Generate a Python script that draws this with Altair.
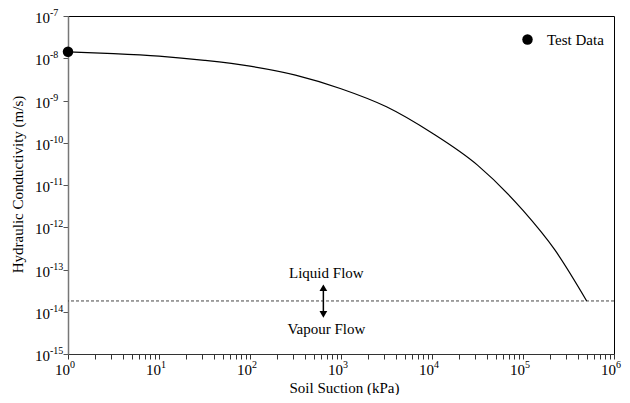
import altair as alt
import pandas as pd

# Curve
suction = [1, 3.16, 10, 31.6, 100, 316, 1000, 3162, 10000, 31620, 100000, 224000, 501000]
conductivity = [1.42e-8, 1.29e-8, 1.12e-8, 8.9e-9, 6.5e-9, 4.0e-9, 1.9e-9, 7.1e-10, 1.7e-10,
                2.95e-11, 2.5e-12, 2.9e-13, 1.8e-14]

test_suction = [1]
test_conductivity = [1.42e-8]
test_label = ["Test Data"]

threshold = 1.8e-14
arrow_x = 640
arrow_top = 3.7e-14
arrow_bottom = 8.7e-15
text_x = 690
liquid_y = 8.3e-14
vapour_y = 3.9e-15
notes = ["Liquid Flow", "Vapour Flow"]

x_exponents = [0, 1, 2, 3, 4, 5, 6]
y_exponents = [-7, -8, -9, -10, -11, -12, -13, -14, -15]
x_min, x_max = 1, 1e6
y_min, y_max = 1e-15, 1e-7

x_ticks = sorted(set([m * 10.0 ** e for e in x_exponents[:-1] for m in range(1, 10)] + [1e6]))
y_ticks = [10.0 ** e for e in y_exponents]

FONT = "Liberation Serif"

curve = pd.DataFrame({"s": suction, "k": conductivity})
test = pd.DataFrame({"s": test_suction, "k": test_conductivity, "series": test_label})
xlab = pd.DataFrame({"s": [10.0 ** e for e in x_exponents], "k": [y_min] * len(x_exponents),
                     "base": ["10"] * len(x_exponents), "exp": [str(e) for e in x_exponents]})
ylab = pd.DataFrame({"s": [x_min] * len(y_exponents), "k": y_ticks,
                     "base": ["10"] * len(y_exponents), "exp": [str(e) for e in y_exponents]})

xs = alt.Scale(type="log", domain=[x_min, x_max], nice=False)
ys = alt.Scale(type="log", domain=[y_min, y_max], nice=False)

xax = alt.Axis(title="Soil Suction (kPa)", values=x_ticks, labels=False, grid=False,
               tickSize=5, domainColor="#333", tickColor="#333",
               titleX=276, titleY=38, titleBaseline="alphabetic", titleAlign="center")
yax = alt.Axis(title="Hydraulic Conductivity (m/s)", values=y_ticks, labels=False, grid=False,
               tickSize=5, domainColor="#777", domainWidth=1.5, tickColor="#555",
               titleX=-51, titleY=168, titleBaseline="middle", titleAlign="center")

line = alt.Chart(curve).mark_line(color="black", strokeWidth=1.2, interpolate="monotone").encode(
    x=alt.X("s:Q", scale=xs, axis=xax),
    y=alt.Y("k:Q", scale=ys, axis=yax),
)

dash = alt.Chart(pd.DataFrame({"k": [threshold]})).mark_rule(
    color="#444", strokeDash=[3, 2], strokeWidth=1).encode(y=alt.Y("k:Q", scale=ys))

arrow_df = pd.DataFrame({"s": [arrow_x], "k": [arrow_top], "k2": [arrow_bottom]})
arrow = alt.Chart(arrow_df).mark_rule(color="black", strokeWidth=1.5).encode(
    x=alt.X("s:Q", scale=xs), y=alt.Y("k:Q", scale=ys), y2="k2:Q")
head_up = alt.Chart(arrow_df).mark_point(shape="triangle-up", filled=True, color="black",
                                         size=60, opacity=1).encode(
    x=alt.X("s:Q", scale=xs), y=alt.Y("k:Q", scale=ys))
head_dn = alt.Chart(arrow_df).mark_point(shape="triangle-down", filled=True, color="black",
                                         size=60, opacity=1).encode(
    x=alt.X("s:Q", scale=xs), y=alt.Y("k2:Q", scale=ys))

notes_df = pd.DataFrame({"s": [text_x, text_x], "k": [liquid_y, vapour_y], "t": notes})
texts = alt.Chart(notes_df).mark_text(font=FONT, fontSize=15, color="black").encode(
    x=alt.X("s:Q", scale=xs), y=alt.Y("k:Q", scale=ys), text="t:N")

xbase = alt.Chart(xlab).mark_text(font=FONT, fontSize=15, color="black", align="right",
                                  baseline="middle", dx=2, dy=16).encode(
    x=alt.X("s:Q", scale=xs), y=alt.Y("k:Q", scale=ys), text="base:N")
xexp = alt.Chart(xlab).mark_text(font=FONT, fontSize=10, color="black", align="left",
                                 baseline="middle", dx=2, dy=11).encode(
    x=alt.X("s:Q", scale=xs), y=alt.Y("k:Q", scale=ys), text="exp:N")
ybase = alt.Chart(ylab).mark_text(font=FONT, fontSize=15, color="black", align="right",
                                  baseline="middle", dx=-18, dy=2).encode(
    x=alt.X("s:Q", scale=xs), y=alt.Y("k:Q", scale=ys), text="base:N")
yexp = alt.Chart(ylab).mark_text(font=FONT, fontSize=10, color="black", align="left",
                                 baseline="middle", dx=-18, dy=-3).encode(
    x=alt.X("s:Q", scale=xs), y=alt.Y("k:Q", scale=ys), text="exp:N")

pts = alt.Chart(test).mark_point(filled=True, size=110, opacity=1).encode(
    x=alt.X("s:Q", scale=xs), y=alt.Y("k:Q", scale=ys),
    color=alt.Color("series:N", scale=alt.Scale(range=["black"]),
                    legend=alt.Legend(title=None, orient="none", legendX=452, legendY=16,
                                      symbolType="circle", symbolSize=110,
                                      labelFont=FONT, labelFontSize=15, labelOffset=12)),
)

chart = alt.layer(dash, line, arrow, head_up, head_dn, texts, xbase, xexp, ybase, yexp, pts).properties(
    width=546, height=338,
    padding={"left": 60, "top": 8, "right": 8, "bottom": 41},
    autosize=alt.AutoSizeParams(type="none"),
).configure_view(stroke="black", strokeWidth=1).configure_axis(
    titleFont=FONT, titleFontSize=15, titleFontWeight="normal", titleColor="black"
)

chart.save("out.html", embed_options={"renderer": "svg", "actions": False})
